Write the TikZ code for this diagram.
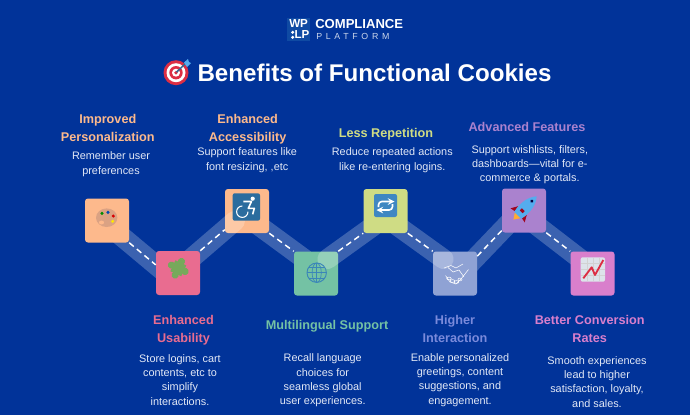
\documentclass[tikz,border=0pt]{standalone}
\usepackage{fontspec}
\setmainfont{Liberation Sans}
\usetikzlibrary{arrows}
\definecolor{pagecol}{HTML}{013399}
\definecolor{peachcol}{HTML}{FDB98C}
\definecolor{pinkcol}{HTML}{E96C90}
\definecolor{greencol}{HTML}{74C2A4}
\definecolor{limecol}{HTML}{CFDC84}
\definecolor{slatecol}{HTML}{8FA2D4}
\definecolor{purplecol}{HTML}{AA82CE}
\definecolor{orchidcol}{HTML}{D97FCC}
\definecolor{bodycol}{HTML}{E2E8F6}
\definecolor{logocol}{HTML}{0F4AA3}
\definecolor{targetcol}{HTML}{DD2E44}
\definecolor{dartcol}{HTML}{55ACEE}
\definecolor{palettecol}{HTML}{DBA283}
\definecolor{puzzlecol}{HTML}{77A95B}
\definecolor{chaircol}{HTML}{2B6C9E}
\definecolor{globecol}{HTML}{3B86B8}
\definecolor{loopcol}{HTML}{3F87C2}
\definecolor{fincol}{HTML}{A0041E}
\definecolor{flamecol}{HTML}{FFAC33}
\definecolor{chartcol}{HTML}{DDE3EA}
\definecolor{linecol}{HTML}{DD2E44}
\pgfdeclarelayer{pagefill}
\pgfdeclarelayer{bandlow}
\pgfdeclarelayer{boxlow}
\pgfdeclarelayer{bandmid}
\pgfsetlayers{pagefill,bandlow,boxlow,bandmid,main}
\tikzset{
  iconbox/.style={minimum size=33pt,inner sep=0pt,rounded corners=2.2pt},
  band/.style={line width=15pt,white,opacity=0.23,line cap=round,shorten <=-10pt,shorten >=-10pt},
  trail/.style={line width=1.1pt,white,dash pattern=on 4.4pt off 3pt},
  headtext/.style={align=center,inner sep=0pt,font=\fontsize{9.5}{13.5}\selectfont\bfseries},
  bodytext/.style={align=center,inner sep=0pt,text=bodycol,font=\fontsize{8.15}{10.7}\selectfont}
}
\begin{document}
\begin{tikzpicture}[x=0.75pt,y=-0.75pt]
            \useasboundingbox (0,0) rectangle (690,415);
            \begin{pgfonlayer}{pagefill}
              \fill[pagecol] (0,0) rectangle (690,415);
            \end{pgfonlayer}
            % logo
            \fill[logocol] (287,17.5) rectangle (310,40.5);
            \node[inner sep=0pt,white,font=\fontsize{8.7}{9}\selectfont\bfseries] (logowp) at (298.6,24) {WP};
            \node[inner sep=0pt,white,font=\fontsize{8.7}{9}\selectfont\bfseries] (logolp) at (302,35) {LP};
            \fill[white] (292.7,32.3) circle (1.7);
            \fill[white] (292.7,37.3) circle (1.7);
            \node[inner sep=0pt,anchor=west,white,font=\fontsize{9.8}{10}\selectfont\bfseries] (logotop) at (315,24) {COMPLIANCE};
            \node[inner sep=0pt,anchor=west,white!80!pagecol,font=\fontsize{6.6}{7}\selectfont\addfontfeature{LetterSpace=42}] (logobot) at (316,36) {PLATFORM};
            % title
            \fill[targetcol] (176,72.7) circle (12.5);
            \fill[white] (176,72.7) circle (9.5);
            \fill[targetcol] (176,72.7) circle (6.7);
            \fill[white] (176,72.7) circle (4);
            \fill[targetcol] (176,72.7) circle (1.9);
            \draw[line width=1.1pt,dartcol!60!black] (176.5,72.2)--(186,63);
            \fill[dartcol] (184,62.5)--(188,59)--(189,62)--(191,63)--(187,67)--cycle;
            \node[white,inner sep=0pt,font=\fontsize{18.1}{20}\selectfont\bfseries] (title) at (374.5,73) {Benefits of Functional Cookies};
            % squares along the zigzag
            \node[iconbox,fill=peachcol] (palettebox) at (107,220.5) {};
            \node[iconbox,fill=pinkcol] (puzzlebox) at (178,273) {};
            \node[iconbox,fill=limecol] (loopbox) at (385.5,211) {};
            \node[iconbox,fill=purplecol] (rocketbox) at (524,210.5) {};
            \node[iconbox,fill=orchidcol] (chartbox) at (592.5,273.5) {};
            \begin{pgfonlayer}{boxlow}
              \node[iconbox,fill=peachcol] (chairbox) at (247,211) {};
              \node[iconbox,fill=greencol] (globebox) at (316,273.5) {};
              \node[iconbox,fill=slatecol] (handbox) at (455,273.5) {};
            \end{pgfonlayer}
            % wide bands
            \begin{pgfonlayer}{bandlow}
              \draw[band] (palettebox.south east)--(puzzlebox.160);
              \draw[band] (chairbox.south east)--(globebox.north west);
              \draw[band] (handbox.38)--(rocketbox.222);
              \draw[band] (rocketbox.south east)--(chartbox.north west);
            \end{pgfonlayer}
            \begin{pgfonlayer}{bandmid}
              \draw[band] (puzzlebox.north east)--(chairbox.220);
              \draw[band] (globebox.north east)--(loopbox.south west);
              \draw[band] (loopbox.south east)--(handbox.north west);
            \end{pgfonlayer}
            % dashes
            \draw[trail] (palettebox.south east)--(puzzlebox.160);
            \draw[trail] (puzzlebox.north east)--(chairbox.220);
            \draw[trail] (chairbox.south east)--(globebox.north west);
            \draw[trail] (globebox.north east)--(loopbox.south west);
            \draw[trail] (loopbox.south east)--(handbox.north west);
            \draw[trail] (handbox.38)--(rocketbox.222);
            \draw[trail] (rocketbox.south east)--(chartbox.north west);
            % palette
            \fill[palettecol] (106.7,217.7) ellipse (10.7 and 9.3);
            \fill[peachcol] (101.5,222.5) ellipse (2.6 and 1.9);
            \fill[green!55!black] (102,213.3) circle (1.7);
            \fill[blue!60!cyan!70!black] (108,212.3) circle (1.7);
            \fill[red!85!black] (113.3,216) circle (1.7);
            \fill[yellow!90!orange] (112.7,221.3) circle (1.7);
            % puzzle
            \begin{scope}[shift={(178.3,268.3)},rotate=-25]
              \fill[puzzlecol] (-6,-6) rectangle (6,6);
              \fill[puzzlecol] (0,-7.5) circle (3.6);
              \fill[puzzlecol] (0,7.5) circle (3.6);
              \fill[puzzlecol] (-7.5,0) circle (3.6);
              \fill[puzzlecol] (7.5,0) circle (3.6);
            \end{scope}
            % wheelchair
            \fill[chaircol,rounded corners=1.5pt] (232.7,193.3) rectangle (260,220.7);
            \fill[white] (252.7,198.7) circle (2.1);
            \draw[white,line width=1.2pt,line join=round] (243.3,201.5)--(251.5,201.5)--(248.3,208.3)--(254.3,208.3)--(252.7,214.3);
            \draw[white,line width=0.8pt] (248,211.7) arc (0:270:5.7);
            % globe
            \draw[globecol,line width=0.7pt] (316.7,272.7) circle (9.7);
            \draw[globecol,line width=0.5pt] (316.7,272.7) ellipse (4.6 and 9.7);
            \draw[globecol,line width=0.5pt] (316.7,263)--(316.7,282.4);
            \draw[globecol,line width=0.5pt] (307,272.7)--(326.4,272.7);
            \draw[globecol,line width=0.5pt] (308.5,267.5)--(324.9,267.5);
            \draw[globecol,line width=0.5pt] (308.5,277.9)--(324.9,277.9);
            % loop
            \fill[loopcol,rounded corners=1.5pt] (374,194) rectangle (397,217);
            \draw[white,line width=1.2pt,rounded corners=2.5pt,-stealth] (378.5,207)--(378.5,201.5)--(394.5,201.5);
            \draw[white,line width=1.2pt,rounded corners=2.5pt,-stealth] (392.5,204)--(392.5,210)--(376.5,210);
            % handshake
            \draw[white,line width=0.4pt,line join=round] (444,268)--(451,265.5)--(456,268)--(463,264);
            \draw[white,line width=0.4pt,line join=round] (448,267.5)--(453,272)--(459,270)--(464,277);
            \draw[white,line width=0.4pt,line join=round] (468.5,269.5)--(461,279)--(456,284)--(450,282)--(445.5,275.5);
            \draw[white,line width=0.4pt] (449,278.5) ellipse (2.2 and 1.4);
            \draw[white,line width=0.4pt] (452.5,281) ellipse (2.2 and 1.4);
            \draw[white,line width=0.4pt] (456.5,282) ellipse (2.2 and 1.4);
            \draw[white,line width=0.4pt] (460,279.5) ellipse (2 and 1.4);
            % rocket
            \begin{scope}[shift={(524,209)},rotate=45]
              \fill[flamecol] (-9,-4)--(-15,0)--(-9,4)--cycle;
              \fill[fincol] (-8,-5)--(-9,-10)--(-2,-6)--cycle;
              \fill[fincol] (-8,5)--(-9,10)--(-2,6)--cycle;
              \fill[dartcol] (-9,-5)..controls (4,-7.5) and (12,-5) .. (18,0)..controls (12,5) and (4,7.5) .. (-9,5)--cycle;
              \fill[fincol] (-4,-2) rectangle (-1,2);
              \fill[black!75!blue] (11,0) circle (1.8);
            \end{scope}
            % chart
            \fill[chartcol,rounded corners=1.5pt] (580.7,257.3) rectangle (605,281.7);
            \draw[gray!35!white,line width=0.3pt] (581,263)--(605,263) (581,269)--(605,269) (581,275)--(605,275) (587,258)--(587,281) (593,258)--(593,281) (599,258)--(599,281);
            \draw[linecol,line width=1.4pt,line join=round] (583.3,278.3)--(591.7,267.3)--(595,275)--(603.3,260);
            % upper labels
            \node[headtext,text=peachcol] (persona) at (107.8,127.5) {Improved\\Personalization};
            \node[bodytext] (personatxt) at (111,164.3) {Remember user\\preferences};
            \node[headtext,text=peachcol] (access) at (247.7,129.3) {Enhanced\\Accessibility};
            \node[bodytext] (accesstxt) at (247.2,160.3) {Support features like\\font resizing, ,etc};
            \node[headtext,text=limecol] (repeat) at (386,134.2) {Less Repetition};
            \node[bodytext] (repeattxt) at (392.3,160.3) {Reduce repeated actions\\like re-entering logins.};
            \node[headtext,text=purplecol] (advanced) at (527,127.3) {Advanced Features};
            \node[bodytext] (advancedtxt) at (529.8,164.5) {Support wishlists, filters,\\dashboards---vital for e-\\commerce \& portals.};
            % lower labels
            \node[headtext,text=pinkcol] (usable) at (183.5,329.8) {Enhanced\\Usability};
            \node[bodytext] (usabletxt) at (180,379.8) {Store logins, cart\\contents, etc to\\simplify\\interactions.};
            \node[headtext,text=greencol] (multi) at (327,326.7) {Multilingual Support};
            \node[bodytext] (multitxt) at (322.7,380.4) {Recall language\\choices for\\seamless global\\user experiences.};
            \node[headtext,text=slatecol!85!blue] (interact) at (455,329.3) {Higher\\Interaction};
            \node[bodytext] (interacttxt) at (460,379.8) {Enable personalized\\greetings, content\\suggestions, and\\engagement.};
            \node[headtext,text=orchidcol] (convert) at (589.7,329.3) {Better Conversion\\Rates};
            \node[bodytext] (converttxt) at (597,381.8) {Smooth experiences\\lead to higher\\satisfaction, loyalty,\\and sales.};
        \end{tikzpicture}
\end{document}
